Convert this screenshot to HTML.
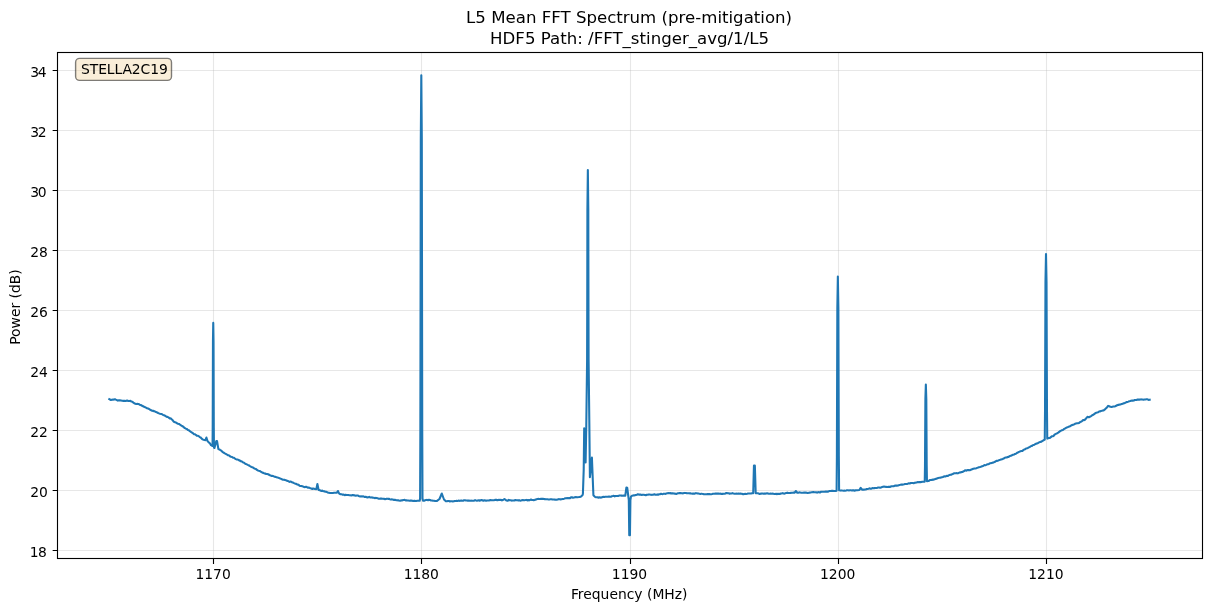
<!DOCTYPE html>
<html lang="en"><head><meta charset="utf-8"><title>L5 Mean FFT Spectrum (pre-mitigation)</title>
<style>html,body{margin:0;padding:0;background:#fff;}body{width:1211px;height:611px;overflow:hidden;}svg{display:block;}</style>
</head><body>
<svg width="1211" height="611" viewBox="0 0 1211 611">
<rect width="1211" height="611" fill="#fff"/>
<path d="M213.50 52.5 V558.5 M421.50 52.5 V558.5 M630.50 52.5 V558.5 M838.50 52.5 V558.5 M1046.50 52.5 V558.5" stroke="#b0b0b0" stroke-opacity="0.3" stroke-width="1.11" fill="none"/>
<path d="M57.5 550.50 H1202.5 M57.5 490.50 H1202.5 M57.5 430.50 H1202.5 M57.5 370.50 H1202.5 M57.5 310.50 H1202.5 M57.5 250.50 H1202.5 M57.5 190.50 H1202.5 M57.5 130.50 H1202.5 M57.5 70.50 H1202.5" stroke="#b0b0b0" stroke-opacity="0.3" stroke-width="1.11" fill="none"/>
<path d="M213.50 558.5 v5.5 M421.50 558.5 v5.5 M630.50 558.5 v5.5 M838.50 558.5 v5.5 M1046.50 558.5 v5.5 M57.5 550.50 h-4.86 M57.5 490.50 h-4.86 M57.5 430.50 h-4.86 M57.5 370.50 h-4.86 M57.5 310.50 h-4.86 M57.5 250.50 h-4.86 M57.5 190.50 h-4.86 M57.5 130.50 h-4.86 M57.5 70.50 h-4.86" stroke="#000" stroke-width="1.11" fill="none"/>
<path d="M109.30 399.10 L110.90 400.00 L111.95 399.75 L113.00 399.60 L113.95 399.47 L114.90 399.20 L115.87 399.66 L116.83 400.07 L117.80 400.60 L118.87 400.34 L119.93 400.37 L121.00 400.50 L122.20 400.73 L123.40 400.86 L124.60 400.80 L125.80 400.99 L127.00 400.60 L128.13 400.88 L129.27 400.93 L130.40 400.80 L131.40 401.57 L132.40 401.80 L133.40 402.71 L134.40 403.30 L135.35 403.70 L136.30 404.03 L137.25 403.90 L138.20 403.95 L139.15 404.27 L140.10 405.00 L141.10 405.11 L142.10 405.78 L143.10 406.27 L144.10 406.86 L145.10 407.16 L146.10 407.71 L147.10 408.23 L148.10 408.60 L149.10 408.95 L150.10 409.77 L151.10 410.19 L152.10 410.74 L153.10 410.88 L154.10 411.13 L155.10 411.54 L156.10 412.10 L157.10 412.41 L158.10 412.98 L159.10 413.39 L160.10 413.66 L161.10 413.89 L162.10 414.28 L163.10 415.02 L164.10 415.30 L165.04 415.69 L165.97 416.27 L166.91 416.85 L167.85 417.00 L168.79 417.61 L169.72 418.42 L170.66 418.41 L171.60 419.20 L172.75 420.27 L173.90 421.80 L174.92 422.14 L175.93 422.52 L176.95 423.22 L177.97 423.70 L178.98 423.91 L180.00 424.70 L181.00 425.29 L182.00 426.03 L183.00 426.50 L183.97 427.39 L184.95 428.18 L185.93 428.68 L186.90 429.00 L187.89 429.92 L188.87 430.30 L189.86 431.22 L190.84 431.81 L191.83 432.50 L192.81 433.04 L193.80 434.10 L194.78 434.22 L195.77 434.79 L196.75 435.69 L197.73 435.74 L198.72 436.11 L199.70 437.10 L200.67 437.55 L201.65 438.62 L202.62 439.33 L203.60 439.80 L205.40 440.10 L206.40 437.50 L207.60 441.30 L208.73 442.33 L209.87 443.25 L211.00 445.20 L212.55 446.00 L212.70 426.30 L212.96 341.37 L213.25 322.90 L213.54 341.60 L213.80 427.65 L213.95 447.60 L214.45 448.00 L216.30 441.00 L217.00 441.00 L218.40 449.10 L219.38 449.46 L220.37 450.10 L221.35 450.66 L222.33 451.68 L223.32 452.56 L224.30 453.00 L225.20 453.61 L226.10 454.05 L227.00 454.54 L227.90 455.25 L228.80 455.30 L229.90 456.21 L231.00 456.73 L232.10 457.00 L233.04 457.73 L233.99 457.75 L234.93 458.54 L235.87 459.11 L236.81 459.55 L237.76 459.49 L238.70 460.20 L239.60 460.39 L240.50 461.13 L241.40 461.21 L242.30 461.79 L243.20 462.55 L244.10 462.71 L245.00 463.58 L245.90 464.06 L246.80 464.38 L247.70 464.86 L248.60 465.20 L249.53 465.89 L250.45 466.33 L251.38 467.00 L252.31 467.23 L253.23 467.64 L254.16 468.37 L255.09 468.80 L256.01 469.08 L256.94 469.82 L257.87 470.56 L258.79 470.81 L259.72 470.98 L260.65 471.55 L261.57 472.09 L262.50 472.70 L263.44 472.87 L264.37 473.50 L265.31 473.50 L266.24 474.08 L267.18 474.03 L268.11 474.23 L269.05 474.76 L269.98 475.28 L270.92 475.64 L271.85 475.87 L272.79 476.09 L273.72 476.35 L274.66 476.70 L275.59 476.88 L276.53 477.20 L277.46 477.57 L278.40 477.70 L279.32 478.10 L280.24 478.53 L281.16 478.86 L282.08 479.48 L283.00 479.62 L283.92 479.69 L284.84 479.88 L285.76 480.20 L286.68 480.70 L287.60 480.86 L288.52 481.24 L289.44 481.88 L290.36 481.49 L291.28 481.71 L292.20 482.40 L293.12 482.59 L294.03 483.10 L294.95 483.50 L295.86 483.75 L296.78 484.27 L297.69 484.63 L298.61 484.83 L299.52 485.69 L300.44 485.91 L301.35 486.01 L302.27 486.31 L303.18 486.61 L304.10 487.00 L305.01 487.13 L305.92 486.77 L306.83 487.09 L307.73 487.64 L308.64 487.59 L309.55 487.85 L310.46 488.28 L311.37 488.56 L312.27 488.93 L313.18 488.56 L314.09 488.70 L315.00 489.00 L316.30 489.30 L317.40 484.00 L318.60 490.00 L319.54 490.11 L320.48 490.55 L321.43 490.99 L322.37 490.60 L323.31 491.25 L324.25 491.21 L325.19 491.73 L326.13 491.69 L327.07 492.11 L328.02 492.66 L328.96 492.81 L329.90 493.00 L330.92 493.01 L331.94 493.08 L332.96 492.96 L333.98 492.82 L335.00 492.70 L336.80 492.80 L337.90 491.00 L339.20 493.60 L340.55 494.29 L341.90 494.30 L342.83 494.79 L343.75 494.65 L344.68 495.22 L345.61 494.79 L346.53 495.02 L347.46 494.94 L348.39 495.03 L349.31 495.23 L350.24 495.28 L351.17 495.44 L352.09 495.14 L353.02 495.01 L353.95 495.41 L354.87 495.36 L355.80 495.70 L356.70 495.46 L357.60 495.42 L358.50 495.99 L359.40 496.24 L360.30 496.57 L361.20 496.32 L362.10 496.41 L363.00 496.28 L363.90 496.63 L364.80 497.03 L365.70 496.81 L366.60 497.22 L367.50 497.37 L368.40 497.27 L369.30 496.90 L370.20 497.42 L371.10 497.44 L372.00 497.40 L372.90 497.63 L373.80 497.80 L374.70 498.15 L375.60 497.90 L376.54 497.99 L377.49 498.31 L378.43 498.61 L379.37 498.80 L380.31 498.63 L381.26 498.46 L382.20 498.76 L383.14 498.79 L384.09 498.85 L385.03 499.19 L385.97 499.08 L386.91 498.66 L387.86 498.85 L388.80 498.70 L389.74 499.20 L390.69 499.42 L391.63 499.39 L392.57 499.54 L393.51 499.84 L394.46 499.89 L395.40 499.90 L396.33 500.27 L397.25 500.17 L398.18 500.36 L399.11 500.57 L400.03 500.74 L400.96 500.40 L401.89 500.55 L402.81 500.10 L403.74 500.04 L404.67 499.85 L405.59 500.38 L406.52 500.24 L407.45 500.42 L408.37 500.51 L409.30 500.70 L410.29 500.62 L411.28 500.54 L412.27 500.66 L413.26 501.04 L414.24 500.89 L415.23 500.91 L416.22 501.02 L417.21 500.83 L418.20 500.70 L419.70 500.70 L420.10 498.50 L420.36 430.79 L420.80 138.78 L421.30 75.30 L421.80 138.78 L422.24 430.79 L422.50 498.50 L423.00 500.80 L424.10 500.70 L425.10 500.26 L426.10 499.96 L427.10 499.90 L428.08 500.12 L429.06 499.87 L430.04 499.99 L431.02 500.43 L432.00 500.50 L433.00 500.77 L434.00 500.76 L435.00 500.96 L436.00 500.97 L437.00 500.90 L439.50 499.00 L441.80 493.50 L444.00 499.50 L445.90 501.30 L446.90 501.18 L447.90 500.96 L448.90 501.04 L449.90 501.41 L450.90 501.33 L451.90 501.23 L452.90 501.50 L453.83 501.15 L454.76 500.92 L455.69 501.04 L456.62 500.88 L457.55 501.06 L458.48 500.60 L459.41 500.85 L460.34 500.77 L461.26 500.44 L462.19 500.76 L463.12 500.72 L464.05 500.27 L464.98 500.27 L465.91 500.48 L466.84 500.42 L467.77 500.61 L468.70 500.50 L469.62 500.66 L470.53 500.70 L471.45 500.65 L472.36 500.81 L473.28 500.76 L474.19 500.68 L475.11 500.13 L476.02 500.41 L476.94 500.64 L477.85 500.44 L478.77 500.29 L479.68 500.68 L480.60 500.30 L481.52 500.13 L482.45 500.28 L483.37 500.75 L484.30 500.33 L485.22 500.41 L486.14 500.69 L487.07 500.44 L487.99 500.43 L488.91 500.49 L489.84 500.15 L490.76 500.12 L491.69 500.17 L492.61 500.30 L493.53 500.20 L494.46 500.10 L495.38 499.88 L496.30 499.88 L497.23 500.12 L498.15 500.09 L499.08 499.88 L500.00 500.00 L501.00 499.76 L502.00 500.40 L503.00 500.00 L504.40 499.00 L506.00 500.20 L506.94 500.66 L507.87 500.59 L508.81 499.91 L509.75 500.19 L510.68 500.32 L511.62 500.63 L512.55 500.56 L513.49 500.42 L514.43 500.47 L515.36 500.00 L516.30 500.30 L517.22 500.33 L518.13 500.36 L519.05 500.16 L519.96 500.45 L520.88 500.70 L521.79 500.19 L522.71 500.05 L523.62 500.16 L524.54 500.19 L525.45 500.08 L526.37 499.90 L527.28 500.41 L528.20 500.10 L529.12 500.39 L530.04 499.91 L530.96 499.57 L531.88 499.96 L532.80 500.00 L533.72 500.15 L534.64 499.99 L535.56 499.53 L536.48 499.47 L537.40 498.92 L538.32 498.86 L539.24 498.93 L540.16 499.05 L541.08 498.83 L542.00 498.90 L542.93 498.85 L543.85 499.04 L544.78 499.15 L545.71 499.29 L546.63 499.31 L547.56 499.23 L548.49 499.44 L549.41 499.43 L550.34 499.27 L551.27 499.25 L552.19 499.38 L553.12 499.46 L554.05 499.58 L554.97 499.64 L555.90 499.70 L556.84 499.62 L557.78 499.48 L558.72 499.12 L559.66 499.22 L560.60 499.35 L561.54 499.25 L562.48 499.02 L563.42 498.97 L564.36 498.62 L565.30 498.19 L566.24 498.29 L567.18 498.11 L568.12 498.29 L569.06 497.98 L570.00 498.10 L570.98 497.33 L571.96 497.29 L572.94 497.74 L573.92 497.55 L574.90 497.19 L575.88 497.05 L576.86 497.19 L577.84 497.20 L578.82 497.09 L579.80 496.90 L581.10 496.43 L582.40 495.30 L582.90 494.00 L583.70 470.00 L584.20 428.20 L585.60 462.50 L586.30 425.00 L587.10 360.00 L587.25 300.00 L587.40 210.00 L587.85 170.00 L588.30 210.00 L588.45 300.00 L588.60 360.00 L589.35 425.00 L589.90 477.20 L591.90 457.50 L593.40 495.20 L595.00 496.90 L595.92 497.30 L596.84 497.23 L597.76 497.36 L598.68 497.67 L599.60 497.30 L600.54 497.64 L601.48 497.55 L602.42 497.03 L603.36 496.89 L604.30 496.94 L605.24 496.72 L606.18 496.82 L607.12 496.74 L608.06 496.71 L609.00 496.43 L609.94 496.78 L610.88 496.67 L611.82 496.27 L612.76 496.07 L613.70 495.80 L614.67 496.38 L615.64 496.01 L616.61 496.03 L617.58 496.05 L618.55 495.86 L619.52 495.50 L620.49 495.56 L621.46 495.62 L622.43 495.79 L623.40 495.50 L625.00 495.80 L625.30 495.60 L626.40 487.50 L627.20 487.70 L628.80 500.00 L629.25 535.30 L629.95 535.30 L630.40 500.00 L631.00 496.50 L632.00 495.70 L633.20 495.40 L634.12 495.48 L635.04 495.13 L635.96 495.00 L636.88 494.77 L637.80 494.30 L638.80 494.59 L639.80 494.64 L640.80 494.65 L641.80 494.89 L642.80 494.73 L643.80 494.78 L644.80 494.98 L645.80 495.20 L646.76 494.78 L647.72 494.79 L648.67 494.44 L649.63 494.49 L650.59 494.74 L651.55 494.84 L652.51 494.75 L653.47 494.63 L654.42 494.29 L655.38 494.73 L656.34 494.68 L657.30 494.40 L658.21 494.68 L659.13 494.29 L660.04 494.19 L660.95 493.78 L661.87 494.05 L662.78 494.20 L663.69 493.69 L664.61 493.75 L665.52 493.89 L666.43 493.47 L667.35 493.19 L668.26 493.16 L669.17 493.21 L670.09 493.05 L671.00 493.50 L671.93 493.22 L672.86 493.38 L673.79 493.54 L674.72 493.63 L675.65 493.84 L676.58 493.88 L677.51 493.40 L678.44 493.30 L679.36 493.12 L680.29 493.02 L681.22 493.15 L682.15 493.24 L683.08 493.38 L684.01 493.04 L684.94 492.91 L685.87 493.08 L686.80 493.30 L687.70 493.18 L688.60 493.24 L689.50 493.34 L690.40 493.28 L691.30 493.55 L692.20 493.66 L693.10 493.65 L694.00 493.55 L694.90 493.61 L695.80 493.16 L696.70 493.27 L697.60 493.56 L698.50 493.44 L699.40 493.73 L700.30 493.90 L701.20 493.70 L702.10 493.84 L703.00 493.93 L703.90 494.15 L704.80 494.33 L705.70 494.31 L706.60 494.30 L707.52 494.12 L708.44 494.11 L709.36 494.10 L710.29 494.24 L711.21 494.20 L712.13 493.96 L713.05 493.69 L713.97 493.71 L714.89 493.63 L715.81 493.49 L716.74 493.60 L717.66 493.56 L718.58 493.64 L719.50 493.75 L720.42 493.60 L721.34 494.05 L722.26 493.75 L723.19 493.84 L724.11 493.68 L725.03 493.78 L725.95 493.11 L726.87 493.05 L727.79 493.19 L728.71 493.32 L729.64 493.73 L730.56 493.52 L731.48 493.58 L732.40 493.10 L733.39 493.58 L734.38 493.67 L735.37 493.67 L736.36 493.57 L737.35 493.68 L738.34 493.47 L739.33 493.83 L740.32 493.63 L741.31 493.81 L742.30 493.90 L743.27 494.26 L744.24 493.97 L745.21 493.83 L746.18 493.95 L747.15 493.77 L748.12 493.47 L749.09 493.49 L750.06 493.54 L751.03 493.57 L752.00 493.30 L753.20 493.20 L753.95 465.60 L754.85 465.60 L755.70 493.30 L757.00 493.30 L757.91 493.28 L758.83 493.66 L759.74 493.87 L760.65 493.66 L761.57 493.60 L762.48 493.43 L763.39 493.72 L764.30 493.46 L765.22 493.60 L766.13 493.46 L767.04 493.34 L767.96 493.57 L768.87 493.83 L769.78 493.71 L770.70 493.52 L771.61 493.72 L772.52 493.66 L773.43 493.71 L774.35 493.99 L775.26 494.07 L776.17 493.79 L777.09 494.21 L778.00 493.70 L778.92 493.94 L779.85 493.91 L780.77 493.58 L781.69 493.50 L782.62 493.09 L783.54 493.55 L784.46 493.69 L785.38 493.23 L786.31 492.89 L787.23 492.66 L788.15 493.07 L789.08 492.94 L790.00 493.00 L790.90 492.88 L791.80 492.82 L792.70 492.80 L793.60 492.58 L794.50 492.80 L795.90 491.00 L797.30 492.80 L798.26 492.65 L799.22 492.40 L800.18 492.54 L801.15 492.68 L802.11 492.79 L803.07 492.70 L804.03 492.50 L804.99 492.61 L805.95 492.53 L806.92 492.88 L807.88 492.92 L808.84 492.75 L809.80 492.60 L810.72 492.52 L811.64 492.33 L812.56 492.15 L813.47 492.14 L814.39 492.24 L815.31 492.31 L816.23 492.34 L817.15 492.63 L818.07 492.20 L818.99 492.08 L819.90 492.55 L820.82 491.85 L821.74 491.70 L822.66 491.73 L823.58 491.72 L824.50 491.74 L825.41 491.59 L826.33 491.61 L827.25 491.53 L828.17 491.60 L829.09 491.08 L830.01 490.97 L830.93 491.06 L831.84 490.87 L832.76 490.74 L833.68 490.98 L834.60 491.00 L835.80 491.00 L836.60 490.80 L836.88 456.51 L837.33 308.64 L837.85 276.50 L838.38 308.56 L838.83 456.01 L839.10 490.20 L840.50 490.60 L841.44 490.40 L842.38 490.59 L843.32 490.70 L844.26 490.66 L845.19 490.67 L846.13 490.55 L847.07 490.21 L848.01 490.29 L848.95 490.42 L849.89 490.28 L850.83 490.28 L851.77 490.44 L852.71 490.20 L853.64 490.35 L854.58 490.67 L855.52 490.36 L856.46 490.31 L857.40 490.20 L859.40 490.00 L860.70 487.80 L862.00 489.60 L862.94 489.51 L863.89 489.69 L864.83 489.50 L865.77 489.45 L866.71 489.06 L867.66 488.93 L868.60 488.81 L869.54 488.33 L870.49 488.67 L871.43 488.69 L872.37 488.12 L873.31 488.26 L874.26 488.10 L875.20 488.00 L876.18 487.98 L877.16 487.92 L878.15 487.47 L879.13 487.43 L880.11 487.70 L881.09 487.40 L882.07 487.09 L883.05 486.81 L884.04 486.64 L885.02 486.82 L886.00 486.90 L886.96 487.03 L887.92 486.90 L888.88 486.74 L889.83 487.01 L890.79 486.55 L891.75 486.22 L892.71 486.23 L893.67 486.19 L894.62 485.81 L895.58 485.52 L896.54 485.60 L897.50 485.60 L898.45 485.40 L899.40 484.95 L900.35 484.84 L901.30 484.62 L902.25 484.62 L903.20 484.41 L904.15 484.22 L905.10 483.98 L906.05 484.04 L907.00 484.05 L907.95 483.62 L908.90 483.30 L909.86 483.44 L910.82 483.08 L911.77 483.00 L912.73 483.05 L913.69 483.19 L914.65 482.84 L915.61 482.66 L916.57 482.57 L917.52 482.14 L918.48 482.16 L919.44 481.99 L920.40 482.10 L921.55 481.91 L922.70 481.80 L924.75 481.60 L924.99 466.08 L925.39 399.15 L925.85 384.60 L926.31 399.09 L926.71 465.74 L926.95 481.20 L928.40 481.00 L929.30 480.50 L930.20 479.97 L931.10 479.96 L932.00 479.90 L932.90 479.58 L933.80 479.59 L934.70 479.24 L935.60 478.87 L936.50 478.78 L937.40 478.20 L938.30 477.95 L939.20 477.83 L940.10 477.83 L941.00 477.50 L941.95 477.23 L942.90 477.00 L943.85 476.56 L944.80 476.38 L945.75 476.42 L946.70 475.85 L947.65 476.02 L948.60 475.38 L949.55 475.03 L950.50 474.75 L951.45 474.63 L952.40 474.10 L953.31 473.76 L954.21 473.17 L955.12 473.28 L956.03 473.27 L956.93 473.14 L957.84 473.36 L958.75 472.89 L959.65 472.55 L960.56 472.39 L961.47 472.09 L962.37 472.08 L963.28 471.39 L964.19 471.09 L965.09 470.20 L966.00 470.70 L966.94 470.24 L967.87 470.04 L968.81 470.09 L969.75 470.26 L970.68 469.82 L971.62 469.43 L972.55 469.06 L973.49 468.69 L974.43 468.42 L975.36 468.43 L976.30 468.20 L977.21 467.89 L978.11 467.58 L979.02 467.22 L979.92 467.09 L980.83 466.80 L981.74 466.36 L982.64 466.14 L983.55 465.72 L984.46 465.14 L985.36 465.20 L986.27 464.89 L987.17 464.29 L988.08 464.23 L988.99 463.90 L989.89 463.20 L990.80 463.10 L991.74 462.97 L992.67 462.62 L993.61 462.39 L994.54 461.97 L995.48 461.53 L996.41 460.86 L997.35 460.84 L998.28 460.50 L999.22 460.10 L1000.15 459.85 L1001.09 459.52 L1002.02 459.31 L1002.96 458.83 L1003.89 458.49 L1004.83 457.73 L1005.76 457.51 L1006.70 457.50 L1007.62 457.04 L1008.54 456.90 L1009.46 456.30 L1010.38 455.83 L1011.30 455.72 L1012.22 455.09 L1013.14 454.77 L1014.06 454.59 L1014.98 453.98 L1015.90 453.69 L1016.82 452.95 L1017.74 452.54 L1018.66 452.07 L1019.58 451.66 L1020.50 451.20 L1021.43 451.02 L1022.35 450.96 L1023.28 450.12 L1024.21 449.49 L1025.13 449.16 L1026.06 448.48 L1026.99 448.23 L1027.91 447.91 L1028.84 447.37 L1029.77 447.05 L1030.69 446.26 L1031.62 446.10 L1032.55 445.35 L1033.47 444.92 L1034.40 444.80 L1035.34 444.05 L1036.28 443.63 L1037.22 443.43 L1038.16 442.96 L1039.10 442.39 L1040.04 442.06 L1040.98 441.87 L1041.92 441.24 L1042.86 440.75 L1043.80 440.10 L1044.75 439.80 L1045.03 410.07 L1045.47 281.87 L1046.00 254.00 L1046.53 281.69 L1046.97 409.06 L1047.25 438.60 L1049.00 438.10 L1049.92 437.88 L1050.85 437.21 L1051.77 436.27 L1052.69 436.25 L1053.62 435.93 L1054.54 434.66 L1055.46 434.09 L1056.38 433.62 L1057.31 433.21 L1058.23 432.67 L1059.15 431.93 L1060.08 431.11 L1061.00 430.70 L1061.93 430.18 L1062.86 429.97 L1063.79 429.23 L1064.71 428.63 L1065.64 428.29 L1066.57 427.53 L1067.50 427.24 L1068.43 426.84 L1069.36 426.60 L1070.29 426.03 L1071.21 425.48 L1072.14 425.07 L1073.07 424.72 L1074.00 424.40 L1075.00 423.81 L1076.00 423.52 L1077.00 423.34 L1078.00 423.15 L1079.00 422.98 L1080.00 422.10 L1081.04 421.70 L1082.08 421.04 L1083.12 420.03 L1084.16 420.12 L1085.20 419.50 L1086.30 418.11 L1087.40 416.90 L1089.20 417.20 L1090.20 416.54 L1091.20 416.07 L1092.20 415.17 L1093.20 414.77 L1094.20 414.18 L1095.20 413.22 L1096.20 412.85 L1097.20 412.40 L1098.12 412.22 L1099.05 411.44 L1099.97 411.39 L1100.90 411.09 L1101.83 410.83 L1102.75 410.53 L1103.67 410.38 L1104.60 409.70 L1105.77 408.58 L1106.93 407.42 L1108.10 405.90 L1109.23 406.32 L1110.37 406.81 L1111.50 407.00 L1112.42 406.67 L1113.35 406.42 L1114.28 406.53 L1115.20 406.21 L1116.12 405.80 L1117.05 405.26 L1117.98 404.91 L1118.90 404.90 L1119.85 404.46 L1120.79 404.36 L1121.74 404.05 L1122.68 403.75 L1123.63 403.32 L1124.57 403.21 L1125.52 402.65 L1126.46 402.15 L1127.41 402.02 L1128.35 401.63 L1129.30 401.20 L1130.21 401.04 L1131.12 400.76 L1132.03 400.60 L1132.94 400.62 L1133.85 400.50 L1134.76 400.06 L1135.67 400.06 L1136.58 399.95 L1137.49 399.57 L1138.40 399.60 L1139.40 399.62 L1140.40 399.50 L1141.40 399.41 L1142.40 399.56 L1143.40 399.74 L1144.40 399.42 L1145.40 399.45 L1146.40 399.30 L1147.50 399.32 L1148.60 399.97 L1149.70 399.70" stroke="#1f77b4" stroke-width="2.08" fill="none" stroke-linejoin="round" stroke-linecap="square"/>
<rect x="57.5" y="52.5" width="1145.0" height="506.00" fill="none" stroke="#000" stroke-width="1.11" stroke-linejoin="miter"/>
<g font-family="'DejaVu Sans', 'Liberation Sans', sans-serif" font-size="13.89" fill="#000">
<text x="213.10" y="579.0" text-anchor="middle">1170</text>
<text x="421.30" y="579.0" text-anchor="middle">1180</text>
<text x="629.50" y="579.0" text-anchor="middle">1190</text>
<text x="837.70" y="579.0" text-anchor="middle">1200</text>
<text x="1045.90" y="579.0" text-anchor="middle">1210</text>
<text x="29.75 37.9" y="557.10">18</text>
<text x="30.14 38.97" y="497.10">20</text>
<text x="30.14 38.97" y="437.10">22</text>
<text x="30.14 38.97" y="377.10">24</text>
<text x="30.14 38.97" y="317.10">26</text>
<text x="30.14 38.97" y="257.10">28</text>
<text x="30.14 37.8" y="197.10">30</text>
<text x="30.14 37.8" y="137.10">32</text>
<text x="30.14 37.8" y="77.10">34</text>
<text x="629.2" y="598.7" text-anchor="middle">Frequency (MHz)</text>
<text transform="translate(19.7 307.0) rotate(-90)" text-anchor="middle">Power (dB)</text>
</g>
<g font-family="'DejaVu Sans', 'Liberation Sans', sans-serif" font-size="16.6" fill="#000" text-anchor="middle">
<text x="629.1" y="23.4">L5 Mean FFT Spectrum (pre-mitigation)</text>
<text x="629.6" y="44.0">HDF5 Path: /FFT_stinger_avg/1/L5</text>
</g>
<rect x="75.6" y="58.4" width="95.9" height="22" rx="4" ry="4" fill="#f5deb3" fill-opacity="0.5" stroke="#000" stroke-opacity="0.5" stroke-width="1.39"/>
<text x="81.0" y="73.9" font-family="'DejaVu Sans', 'Liberation Sans', sans-serif" font-size="13.89" fill="#000" textLength="86.8" lengthAdjust="spacing">STELLA2C19</text>
</svg>
</body></html>
